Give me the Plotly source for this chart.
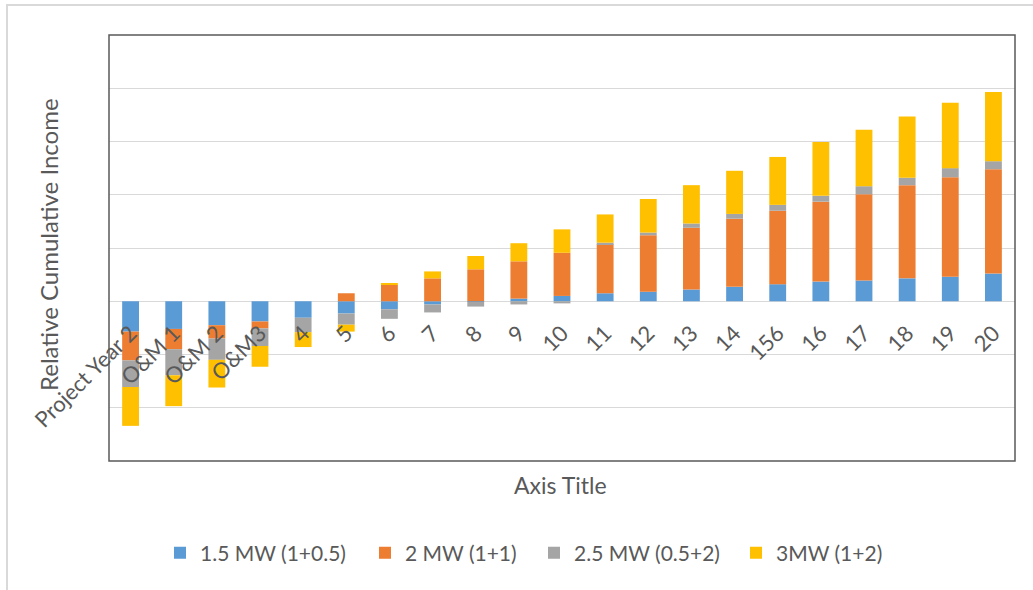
import plotly.graph_objects as go

# Project years on the horizontal axis
categories = ["Project Year 2", "O&M 1", "O&M 2", "O&M3", "4", "5", "6", "7", "8", "9",
              "10", "11", "12", "13", "14", "156", "16", "17", "18", "19", "20"]

# Relative cumulative income per configuration (one gridline = 1 unit)
mw_1_5 = [-0.57, -0.52, -0.45, -0.38, -0.31, -0.23, -0.15, -0.06, -0.01, 0.05,
          0.10, 0.15, 0.18, 0.22, 0.27, 0.32, 0.37, 0.39, 0.43, 0.46, 0.52]
mw_2 = [-0.54, -0.38, -0.25, -0.13, 0.0, 0.15, 0.31, 0.43, 0.60, 0.70,
        0.81, 0.92, 1.06, 1.16, 1.28, 1.38, 1.50, 1.62, 1.75, 1.87, 1.96]
mw_2_5 = [-0.50, -0.49, -0.40, -0.33, -0.27, -0.21, -0.18, -0.15, -0.09, -0.06,
          -0.04, 0.03, 0.05, 0.08, 0.09, 0.11, 0.11, 0.15, 0.14, 0.17, 0.15]
mw_3 = [-0.73, -0.58, -0.52, -0.39, -0.28, -0.13, 0.03, 0.13, 0.25, 0.34,
        0.44, 0.53, 0.63, 0.72, 0.81, 0.90, 1.01, 1.06, 1.15, 1.23, 1.30]

series_names = ["1.5 MW (1+0.5)", "2 MW (1+1)", "2.5 MW (0.5+2)", "3MW (1+2)"]
series_colors = ["#5B9BD5", "#ED7D31", "#A5A5A5", "#FFC000"]
series_values = [mw_1_5, mw_2, mw_2_5, mw_3]

TEXT = "#595959"
FONT = "Lato"

# plot area spans x 109..1015 px, y 35..461 px
L, R, T, B = 109, 1015, 35, 461
W, H = 1033, 590
pw, ph = R - L, B - T


def px_x(p):
    return (p - L) / pw


def px_y(p):
    return (B - p) / ph


# each series gets its own legend box so entries sit at fixed positions
legend_ids = ["legend", "legend2", "legend3", "legend4"]
legend_left_px = [160, 365, 534, 736]

fig = go.Figure()
for name, vals, color, lid in zip(series_names, series_values, series_colors, legend_ids):
    fig.add_bar(x=categories, y=vals, name=name, marker_color=color,
                marker_line_width=0, legend=lid)

legend_layouts = {}
for lid, lx in zip(legend_ids, legend_left_px):
    legend_layouts[lid] = dict(
        orientation="h", x=px_x(lx), xanchor="left",
        y=px_y(553), yanchor="middle",
        font=dict(size=21, color=TEXT, family=FONT),
        bgcolor="rgba(0,0,0,0)", borderwidth=0)

fig.update_layout(
    width=W, height=H,
    margin=dict(l=L, r=W - R, t=T, b=H - B, pad=0),
    paper_bgcolor="white", plot_bgcolor="white",
    barmode="relative", bargap=0.61,
    font=dict(family=FONT, color=TEXT),
    showlegend=True,
    xaxis=dict(type="category", anchor="free", position=3 / 8,
               showline=False, ticks="", showgrid=False, zeroline=False,
               tickangle=-45, ticklabelstandoff=14,
               tickfont=dict(size=22, color=TEXT, family=FONT)),
    yaxis=dict(range=[-3, 5], dtick=1, showticklabels=False, ticks="",
               showgrid=True, gridcolor="#D9D9D9", gridwidth=1,
               zeroline=False, showline=False),
    shapes=[
        # outer chart frame
        dict(type="rect", xref="paper", yref="paper",
             x0=px_x(7), x1=px_x(1060), y0=px_y(620), y1=px_y(5),
             line=dict(color="#D9D9D9", width=2), layer="below"),
        # plot area frame
        dict(type="rect", xref="paper", yref="paper",
             x0=0, x1=1, y0=0, y1=1,
             line=dict(color="#595959", width=1.5)),
    ],
    annotations=[
        dict(text="Relative Cumulative Income", xref="paper", yref="paper",
             x=px_x(48), y=px_y(245), xanchor="center", yanchor="middle",
             textangle=-90, showarrow=False,
             font=dict(size=24, color=TEXT, family=FONT)),
        dict(text="Axis Title", xref="paper", yref="paper",
             x=px_x(560), y=px_y(485), xanchor="center", yanchor="middle",
             showarrow=False, font=dict(size=23, color=TEXT, family=FONT)),
    ],
    **legend_layouts,
)

fig.write_html("out.html")
